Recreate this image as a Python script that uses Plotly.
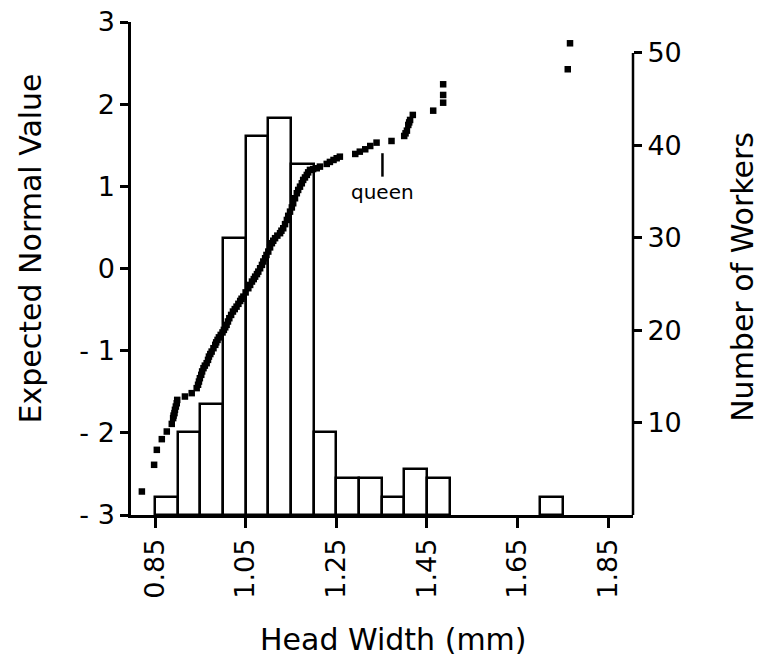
import plotly.graph_objects as go

# Histogram of worker head widths (bin left edges, mm) and counts
bin_left = [0.85, 0.90, 0.95, 1.00, 1.05, 1.10, 1.15, 1.20, 1.25, 1.30, 1.35, 1.40, 1.45, 1.70]
bin_count = [2, 9, 12, 30, 41, 43, 38, 9, 4, 4, 2, 5, 4, 2]
bin_width = 0.05

# Normal probability plot points (head width mm, expected normal value)
head_width = [
    0.821, 0.848, 0.854, 0.865, 0.876, 0.887,
    0.890, 0.891, 0.893, 0.894, 0.896, 0.898, 0.899,
    0.916, 0.931,
    0.942, 0.945, 0.947, 0.949, 0.952, 0.954, 0.957, 0.960, 0.964, 0.967,
    0.969, 0.972, 0.975, 0.979, 0.983, 0.985, 0.988, 0.991, 0.995, 0.999,
    1.002, 1.005, 1.008, 1.011, 1.014, 1.018, 1.022, 1.026, 1.030, 1.034,
    1.038, 1.041, 1.045, 1.050, 1.056, 1.060, 1.064, 1.068, 1.071, 1.075,
    1.078, 1.082, 1.086, 1.089, 1.093, 1.096, 1.100, 1.104, 1.108, 1.111,
    1.115, 1.120, 1.126, 1.129, 1.133, 1.137, 1.141, 1.144, 1.148, 1.152,
    1.155, 1.159, 1.163, 1.166, 1.170, 1.174, 1.177, 1.181, 1.185, 1.188,
    1.192, 1.199, 1.207, 1.214,
    1.229, 1.236, 1.244, 1.251, 1.258,
    1.292, 1.302, 1.314, 1.325, 1.339,
    1.372, 1.400, 1.403, 1.406, 1.409, 1.411, 1.413, 1.419,
    1.464, 1.486, 1.486, 1.486,
    1.761, 1.766,
]
normal_value = [
    -2.714, -2.389, -2.207, -2.077, -1.984, -1.891,
    -1.821, -1.790, -1.760, -1.720, -1.680, -1.640, -1.599,
    -1.558, -1.517,
    -1.456, -1.415, -1.376, -1.335, -1.294, -1.253, -1.213, -1.182, -1.152, -1.112,
    -1.072, -1.041, -1.011, -0.970, -0.929, -0.899, -0.869, -0.838, -0.808, -0.778,
    -0.747, -0.716, -0.686, -0.645, -0.605, -0.565, -0.524, -0.494, -0.464, -0.430,
    -0.395, -0.368, -0.342, -0.291, -0.240, -0.200, -0.159, -0.129, -0.099, -0.068,
    -0.038, 0.003, 0.044, 0.085, 0.125, 0.165, 0.206, 0.257, 0.308, 0.338,
    0.369, 0.400, 0.430, 0.460, 0.490, 0.540, 0.591, 0.641, 0.692, 0.743,
    0.794, 0.855, 0.916, 0.956, 0.996, 1.037, 1.078, 1.108, 1.139, 1.170,
    1.200, 1.210, 1.220, 1.240,
    1.273, 1.297, 1.321, 1.342, 1.361,
    1.394, 1.422, 1.451, 1.491, 1.532,
    1.552, 1.613, 1.645, 1.678, 1.747, 1.778, 1.808, 1.869,
    1.921, 2.018, 2.112, 2.242,
    2.425, 2.741,
]

x_tick_vals = [0.85, 1.05, 1.25, 1.45, 1.65, 1.85]
x_tick_text = ["0.85", "1.05", "1.25", "1.45", "1.65", "1.85"]
left_tick_vals = [-3, -2, -1, 0, 1, 2, 3]
left_tick_text = ["- 3", "- 2", "- 1", "0", "1", "2", "3"]
right_tick_vals = [10, 20, 30, 40, 50]
right_tick_text = ["10", "20", "30", "40", "50"]

queen_width = 1.352

FONT = "DejaVu Sans"
LW = 2.5

bin_centers = [b + bin_width / 2 for b in bin_left]

fig = go.Figure()
fig.add_trace(go.Bar(
    x=bin_centers, y=bin_count, width=bin_width,
    marker=dict(color="white", line=dict(color="black", width=LW)),
    yaxis="y", showlegend=False, hoverinfo="skip",
))
fig.add_trace(go.Scatter(
    x=head_width, y=normal_value, mode="markers",
    marker=dict(symbol="square", size=6.5, color="black", line=dict(width=0)),
    yaxis="y2", showlegend=False,
))

# page body adds an 8px offset, so the figure is 8px smaller and margins shifted
fig.update_layout(
    width=767, height=651,
    margin=dict(l=123, r=142, t=14, b=144, autoexpand=False),
    paper_bgcolor="white", plot_bgcolor="white",
    font=dict(family=FONT, color="black", size=27),
    bargap=0,
    xaxis=dict(
        range=[0.797, 1.905], tickvals=x_tick_vals, ticktext=x_tick_text,
        tickangle=-90, ticks="outside", ticklen=10, tickwidth=LW, tickcolor="black",
        showline=True, linecolor="black", linewidth=LW, showgrid=False, zeroline=False,
        tickfont=dict(size=27, family=FONT), automargin=False,
    ),
    yaxis=dict(
        side="right", range=[0, 53.35], tickvals=right_tick_vals, ticktext=right_tick_text,
        ticks="outside", ticklen=8, tickwidth=LW, tickcolor="black",
        showline=False, showgrid=False, zeroline=False,
        tickfont=dict(size=27, family=FONT), automargin=False,
    ),
    yaxis2=dict(
        overlaying="y", side="left", range=[-3, 3],
        tickvals=left_tick_vals, ticktext=left_tick_text,
        ticks="outside", ticklen=8, tickwidth=LW, tickcolor="black",
        showline=True, linecolor="black", linewidth=LW, showgrid=False, zeroline=False,
        tickfont=dict(size=27, family=FONT), automargin=False,
        ticklabeloverflow="allow",
    ),
    shapes=[
        dict(type="line", xref="paper", yref="y", x0=1, x1=1, y0=0, y1=50,
             line=dict(color="black", width=LW)),
        dict(type="line", xref="x", yref="y2", x0=queen_width, x1=queen_width,
             y0=1.118, y1=1.403, line=dict(color="black", width=LW)),
    ],
    annotations=[
        dict(text="queen", xref="x", yref="y2", x=queen_width, y=0.93,
             showarrow=False, font=dict(size=20, family=FONT), xanchor="center", yanchor="middle"),
        dict(text="Expected Normal Value", xref="paper", yref="paper",
             x=-0.201, y=0.541, textangle=-90, showarrow=False,
             font=dict(size=30, family=FONT), xanchor="center", yanchor="middle"),
        dict(text="Number of Workers", xref="paper", yref="paper",
             x=1.219, y=0.483, textangle=-90, showarrow=False,
             font=dict(size=30, family=FONT), xanchor="center", yanchor="middle"),
        dict(text="Head Width (mm)", xref="paper", yref="paper",
             x=0.522, y=-0.2535, showarrow=False,
             font=dict(size=30, family=FONT), xanchor="center", yanchor="middle"),
    ],
)

fig.write_html("out.html")
